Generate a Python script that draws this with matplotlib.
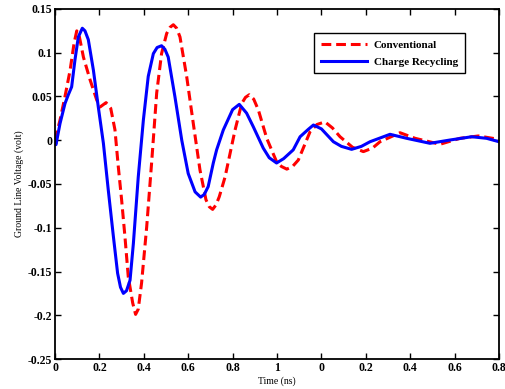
import matplotlib
matplotlib.use('Agg')
import matplotlib.pyplot as plt

# Time axis in ns (0..2)
t_cr = [0, 0.0045, 0.0225, 0.045, 0.06, 0.075, 0.09, 0.105, 0.123, 0.135, 0.15, 0.173,
        0.195, 0.218, 0.24, 0.263, 0.282, 0.295, 0.308, 0.322, 0.338, 0.353, 0.375, 0.398,
        0.42, 0.443, 0.46, 0.48, 0.495, 0.51, 0.54, 0.571, 0.60, 0.631, 0.656, 0.672, 0.69,
        0.713, 0.728, 0.758, 0.80, 0.83, 0.863, 0.893, 0.938, 0.965, 0.998, 1.03, 1.073,
        1.104, 1.141, 1.164, 1.20, 1.254, 1.29, 1.336, 1.38, 1.419, 1.509, 1.584, 1.689,
        1.78, 1.877, 1.944, 2.0]
v_cr = [-0.003, -0.005, 0.019, 0.042, 0.052, 0.061, 0.092, 0.118, 0.128, 0.125, 0.115,
        0.080, 0.038, -0.0035, -0.057, -0.110, -0.152, -0.168, -0.175, -0.172, -0.16,
        -0.118, -0.042, 0.023, 0.073, 0.099, 0.106, 0.108, 0.104, 0.095, 0.05, 0.0, -0.038,
        -0.059, -0.065, -0.062, -0.053, -0.026, -0.011, 0.0117, 0.035, 0.041, 0.031, 0.0155,
        -0.009, -0.02, -0.026, -0.021, -0.011, 0.004, 0.0125, 0.0174, 0.013, -0.0017,
        -0.007, -0.0104, -0.007, -0.0017, 0.0068, 0.0022, -0.0035, 0.0003, 0.004, 0.0022,
        -0.0017]

t_conv = [0, 0.0225, 0.045, 0.068, 0.086, 0.098, 0.11, 0.128, 0.158, 0.188, 0.203, 0.23,
          0.251, 0.27, 0.285, 0.30, 0.315, 0.33, 0.35, 0.363, 0.375, 0.39, 0.413, 0.436,
          0.458, 0.48, 0.503, 0.518, 0.533, 0.548, 0.563, 0.593, 0.623, 0.653, 0.68, 0.695,
          0.71, 0.725, 0.74, 0.766, 0.811, 0.841, 0.858, 0.875, 0.895, 0.916, 0.954, 0.998,
          1.02, 1.044, 1.07, 1.096, 1.149, 1.18, 1.216, 1.25, 1.284, 1.34, 1.389, 1.43,
          1.464, 1.554, 1.622, 1.734, 1.824, 1.907, 2.0]
v_conv = [0.0, 0.023, 0.050, 0.080, 0.111, 0.125, 0.118, 0.095, 0.069, 0.046, 0.038, 0.043,
          0.0365, 0.012, -0.030, -0.068, -0.110, -0.156, -0.186, -0.199, -0.193, -0.163,
          -0.099, -0.023, 0.054, 0.099, 0.122, 0.129, 0.132, 0.128, 0.118, 0.073, 0.019,
          -0.034, -0.068, -0.076, -0.079, -0.074, -0.0645, -0.042, 0.0117, 0.042, 0.049,
          0.052, 0.047, 0.0346, 0.002, -0.0245, -0.030, -0.033, -0.030, -0.0226, 0.0098,
          0.018, 0.021, 0.014, 0.004, -0.008, -0.013, -0.009, -0.0017, 0.0086, 0.0022,
          -0.0046, 0.0022, 0.0049, 0.001]

x_ticks = [0, 0.2, 0.4, 0.6, 0.8, 1.0, 1.2, 1.4, 1.6, 1.8, 2.0]
x_labels = ['0', '0.2', '0.4', '0.6', '0.8', '1', '0', '0.2', '0.4', '0.6', '0.8']
y_ticks = [-0.25, -0.2, -0.15, -0.1, -0.05, 0, 0.05, 0.1, 0.15]
y_labels = ['-0.25', '-0.2', '-0.15', '-0.1', '-0.05', '0', '0.05', '0.1', '0.15']

plt.rcParams['font.family'] = ['Liberation Serif', 'DejaVu Serif']

fig = plt.figure(figsize=(5.06, 3.89), dpi=100)
ax = fig.add_axes([0.1087, 0.0771, 0.8775, 0.8998])

ax.plot(t_conv, v_conv, color='#ff0000', linestyle=(0, (3.2, 1.6)), linewidth=2.2,
        label='Conventional', dash_joinstyle='round')
ax.plot(t_cr, v_cr, color='#0000ff', linestyle='-', linewidth=2.2, label='Charge Recycling',
        solid_joinstyle='round')

ax.set_xlim(0, 2.0)
ax.set_ylim(-0.25, 0.15)
ax.set_xticks(x_ticks)
ax.set_xticklabels(x_labels, fontweight='bold', fontsize=8.5)
ax.set_yticks(y_ticks)
ax.set_yticklabels(y_labels, fontweight='bold', fontsize=8.5)
ax.tick_params(direction='in', length=4, width=1, top=True, right=True, pad=2)
for s in ax.spines.values():
    s.set_linewidth(1.3)

ax.set_xlabel('Time (ns)', fontsize=7, labelpad=2)
ax.set_ylabel('Ground Line Voltage (volt)', fontsize=7, labelpad=3)

leg = ax.legend(loc='upper right', bbox_to_anchor=(0.923, 0.931), borderaxespad=0,
                fancybox=False, framealpha=1, edgecolor='black',
                prop={'weight': 'bold', 'size': 8}, handlelength=4.2, handletextpad=0.6,
                borderpad=0.6, labelspacing=0.65)
leg.get_frame().set_linewidth(1.0)

fig.savefig('out.png', dpi=100)
